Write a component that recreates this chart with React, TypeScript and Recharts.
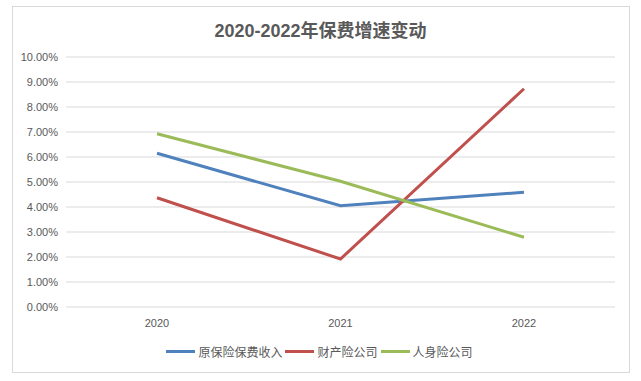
import React from 'react';
import { LineChart, Line, XAxis, YAxis, CartesianGrid, Legend } from 'recharts';

const years = ['2020', '2021', '2022'];
const premiumIncome = [6.15, 4.05, 4.59];
const propertyCos = [4.37, 1.92, 8.73];
const lifeCos = [6.93, 5.03, 2.79];
const yTicks = [0, 1, 2, 3, 4, 5, 6, 7, 8, 9, 10];

const seriesNames = ['原保险保费收入', '财产险公司', '人身险公司'];
const colors = ['#4f81bd', '#c0504d', '#9bbb59'];

const data = years.map((y, i) => ({
  year: y,
  a: premiumIncome[i],
  b: propertyCos[i],
  c: lifeCos[i],
}));

const font = '"Liberation Sans", "Noto Sans CJK SC", sans-serif';

const LegendContent = () => (
  <div style={{ display: 'flex', justifyContent: 'center', alignItems: 'center', fontFamily: font, fontSize: 12, color: '#595959', height: 20 }}>
    {seriesNames.map((n, i) => (
      <div key={n} style={{ display: 'flex', alignItems: 'center', marginRight: i < 2 ? 3 : 0 }}>
        <div style={{ width: 29, height: 3, background: colors[i], marginRight: 3 }} />
        <span>{n}</span>
      </div>
    ))}
  </div>
);

export default function App() {
  return (
    <div style={{ position: 'absolute', left: 0, top: 0, width: 641, height: 381, background: '#fff' }}>
      <div style={{ position: 'absolute', left: 12, top: 6, width: 616, height: 365, border: '1px solid #d9d9d9' }} />
      <div style={{ position: 'absolute', left: 0, top: 16, width: 641, textAlign: 'center', fontFamily: font, fontWeight: 'bold', fontSize: 18, color: '#595959' }}>
        2020-2022年保费增速变动
      </div>
      <div style={{ position: 'absolute', left: 0, top: 0 }}>
        <LineChart width={641} height={381} data={data} margin={{ top: 57, right: 26, bottom: 20, left: 0 }}>
          <CartesianGrid vertical={false} stroke="#d9d9d9" strokeWidth={1} />
          <XAxis dataKey="year" height={34} axisLine={false} tickLine={false} tickSize={0} tickMargin={12}
            padding={{ left: 91, right: 91 }}
            tick={{ fill: '#595959', fontSize: 11, fontFamily: font }} />
          <YAxis width={66} domain={[0, 10]} ticks={yTicks} interval={0} axisLine={false} tickLine={false} tickSize={0} tickMargin={8}
            tickFormatter={(v: number) => `${v.toFixed(2)}%`}
            tick={{ fill: '#595959', fontSize: 11, fontFamily: font }} />
          <Legend verticalAlign="bottom" height={20} wrapperStyle={{ left: 0, width: 639 }} content={<LegendContent />} />
          <Line dataKey="a" name={seriesNames[0]} stroke={colors[0]} strokeWidth={3} dot={false} isAnimationActive={false} />
          <Line dataKey="b" name={seriesNames[1]} stroke={colors[1]} strokeWidth={3} dot={false} isAnimationActive={false} />
          <Line dataKey="c" name={seriesNames[2]} stroke={colors[2]} strokeWidth={3} dot={false} isAnimationActive={false} />
        </LineChart>
      </div>
    </div>
  );
}
